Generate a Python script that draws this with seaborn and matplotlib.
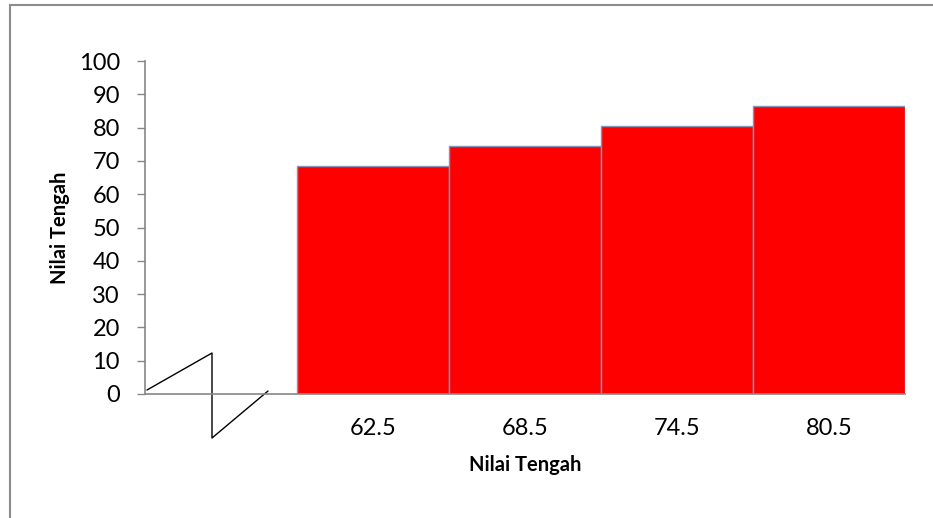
import numpy as np
import pandas as pd
import matplotlib
matplotlib.use('Agg')
import matplotlib.pyplot as plt
import seaborn as sns

# data
nilai_tengah = ['', '62.5', '68.5', '74.5', '80.5']   # first class is the axis break
frekuensi = [np.nan, 68.5, 74.5, 80.5, 86.5]
y_ticks = list(range(0, 101, 10))

df = pd.DataFrame({'tengah': nilai_tengah, 'nilai': frekuensi})

sns.set_style('white')
plt.rcParams['font.family'] = ['Lato', 'DejaVu Sans']

W, H = 933, 518
fig = plt.figure(figsize=(W / 100, H / 100), dpi=100)
ax = fig.add_axes([145 / W, 1 - 394 / H, 760 / W, 333 / H])

sns.barplot(data=df, x='tengah', y='nilai', order=nilai_tengah, color='#ff0000',
            saturation=1, width=1.0, edgecolor='#8594b8', linewidth=1.0, ax=ax)

ax.set_xlim(-0.5, len(nilai_tengah) - 0.5)
ax.set_ylim(0, 100)
ax.set_yticks(y_ticks)
ax.tick_params(axis='y', direction='out', length=6, width=1, color='#868686',
               labelsize=17, pad=12, left=True, labelcolor='black')
ax.tick_params(axis='x', length=0, labelsize=17, pad=17, labelcolor='black')

for s in ['top', 'right']:
    ax.spines[s].set_visible(False)
for s in ['left', 'bottom']:
    ax.spines[s].set_color('#868686')
    ax.spines[s].set_linewidth(1.2)

ax.set_xlabel('Nilai Tengah', fontsize=14.5, fontweight='bold', labelpad=12,
              color='black')
ax.set_ylabel('Nilai Tengah', fontsize=14.5, fontweight='bold', labelpad=6,
              color='black')

# axis break zigzag (axes-fraction coords)
zx = [2 / 760, 67 / 760, 67 / 760, 123 / 760]
zy = [4 / 333, 41 / 333, -44 / 333, 3 / 333]
ax.plot(zx, zy, color='black', lw=1.0, transform=ax.transAxes, clip_on=False)

# outer chart frame
fig.patches.append(plt.Rectangle((10 / W, -0.1), 1.2, 1 - 5 / H + 0.1,
                                 transform=fig.transFigure, fill=False,
                                 edgecolor='#8c8c8c', lw=1.5))

fig.savefig('out.png', dpi=100)
